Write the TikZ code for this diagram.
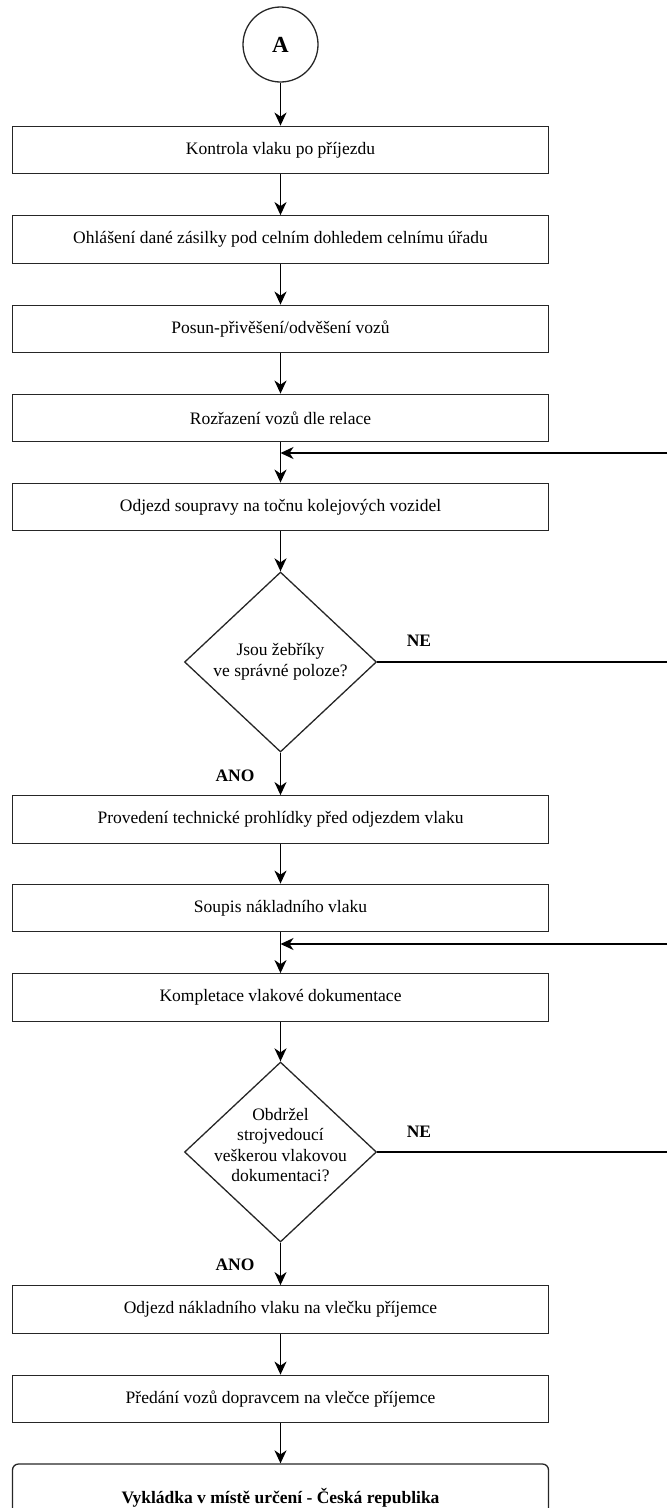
\documentclass[tikz,border=0pt]{standalone}
\usepackage{fontspec}
\setmainfont{Liberation Serif}
\usetikzlibrary{arrows.meta,shapes.geometric}

\begin{document}
\begin{tikzpicture}[x=1pt,y=-1pt,
  every node/.style={font=\fontsize{17.5}{20.5}\selectfont},
  stepbox/.style={draw=black!85,line width=1.3pt,minimum width=536pt,
    minimum height=47.5pt,inner sep=0pt},
  endbox/.style={stepbox,rounded corners=6pt,minimum height=68pt,
    font=\fontsize{17.5}{20.5}\selectfont\bfseries},
  decision/.style={diamond,draw=black!85,line width=1.3pt,
    minimum width=192pt,minimum height=180pt,inner sep=0pt},
  connector/.style={circle,draw=black!85,line width=1.3pt,minimum size=75pt,
    inner sep=0pt,font=\fontsize{23}{26}\selectfont\bfseries},
  flow/.style={black,line width=1.5pt,
    -{Stealth[length=13pt,width=12pt,inset=4pt]}},
  answer/.style={font=\fontsize{17.5}{20.5}\selectfont\bfseries}]
  \useasboundingbox (0,0) rectangle (667,1508);

  % connector and process steps, top to bottom
  \node[connector] (conA) at (280.5,44.5) {A};
  \node[stepbox] (kontrola) at (280.5,150) {Kontrola vlaku po příjezdu};
  \node[stepbox] (ohlaseni) at (280.5,239.5)
    {Ohlášení dané zásilky pod celním dohledem celnímu úřadu};
  \node[stepbox] (posun) at (280.5,329) {Posun-přivěšení/odvěšení vozů};
  \node[stepbox] (rozrazeni) at (280.5,418) {Rozřazení vozů dle relace};
  \node[stepbox] (odjezd) at (280.5,507)
    {Odjezd soupravy na točnu kolejových vozidel};
  \node[decision] (zebriky) at (280.5,662) {};
  \node[align=center] (zebrikytext) at (zebriky)
    {Jsou žebříky\\ve správné poloze?};
  \node[stepbox] (prohlidka) at (280.5,819.5)
    {Provedení technické prohlídky před odjezdem vlaku};
  \node[stepbox] (soupis) at (280.5,908) {Soupis nákladního vlaku};
  \node[stepbox] (kompletace) at (280.5,997.5)
    {Kompletace vlakové dokumentace};
  \node[decision] (dokumentace) at (280.5,1152) {};
  \node[align=center] (dokumentacetext) at (280.5,1145)
    {Obdržel\\strojvedoucí\\veškerou vlakovou\\dokumentaci?};
  \node[stepbox] (odjezdvlaku) at (280.5,1309.5)
    {Odjezd nákladního vlaku na vlečku příjemce};
  \node[stepbox] (predani) at (280.5,1399)
    {Předání vozů dopravcem na vlečce příjemce};
  \node[endbox] (vykladka) at (280.5,1498)
    {Vykládka v místě určení - Česká republika};

  % return lines come in from the right edge
  \coordinate (navrat1) at (667,453);
  \coordinate (spoj1) at (280.5,453);
  \coordinate (navrat2) at (667,944);
  \coordinate (spoj2) at (280.5,944);
  \coordinate (ne1) at (667,662);
  \coordinate (ne2) at (667,1152);

  \draw[flow] (conA) -- (kontrola);
  \draw[flow] (kontrola) -- (ohlaseni);
  \draw[flow] (ohlaseni) -- (posun);
  \draw[flow] (posun) -- (rozrazeni);
  \draw[flow] (rozrazeni) -- (odjezd);
  \draw[flow] (navrat1) -- (spoj1);
  \draw[flow] (odjezd) -- (zebriky);
  \draw[flow] (zebriky) -- (prohlidka);
  \draw[black,line width=1.5pt] (zebriky.east) -- (ne1);
  \draw[flow] (prohlidka) -- (soupis);
  \draw[flow] (soupis) -- (kompletace);
  \draw[flow] (navrat2) -- (spoj2);
  \draw[flow] (kompletace) -- (dokumentace);
  \draw[flow] (dokumentace) -- (odjezdvlaku);
  \draw[black,line width=1.5pt] (dokumentace.east) -- (ne2);
  \draw[flow] (odjezdvlaku) -- (predani);
  \draw[flow] (predani) -- (vykladka);

  \node[answer] (ne1lab) at (419,641) {NE};
  \node[answer] (ano1lab) at (235,776) {ANO};
  \node[answer] (ne2lab) at (419,1132) {NE};
  \node[answer] (ano2lab) at (235,1265) {ANO};
\end{tikzpicture}
\end{document}
